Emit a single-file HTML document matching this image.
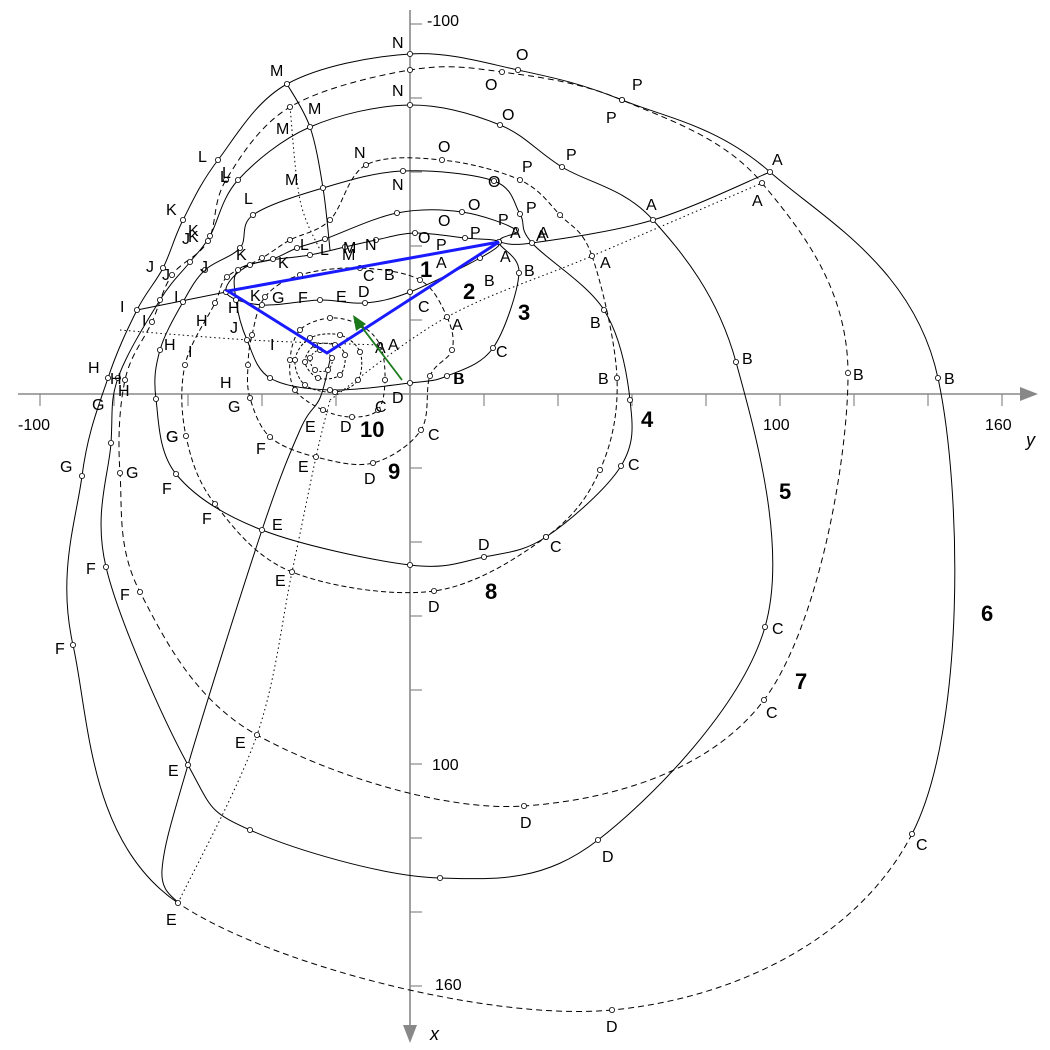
<!DOCTYPE html>
<html><head><meta charset="utf-8"><style>
html,body{margin:0;padding:0;background:#fff;}
svg{display:block;font-family:"Liberation Sans",sans-serif;}
</style></head><body>
<svg id="s" width="1050" height="1050" viewBox="0 0 1050 1050" xmlns="http://www.w3.org/2000/svg">
<rect width="1050" height="1050" fill="#fff"/>
<g stroke="#888" stroke-width="1.6" fill="none">
<line x1="18" y1="394" x2="1025" y2="394"/>
<line x1="410" y1="10" x2="410" y2="1030"/>
</g>
<polygon points="1038,394 1020,387 1020,401" fill="#888"/>
<polygon points="410,1043 403,1025 417,1025" fill="#888"/>
<g id="ticks" stroke="#888" stroke-width="1.2"></g>
<g id="curves" fill="none" stroke="#000" stroke-width="1"></g>
<g id="pts" fill="#fff" stroke="#000" stroke-width="0.8"></g>
<g id="lbl" font-size="16" fill="#000"></g>
<g font-size="16" fill="#000">
<text x="18" y="430">-100</text><text x="763" y="430">100</text><text x="985" y="430">160</text>
<text x="1026" y="446" font-style="italic" font-size="18">y</text>
<text x="427" y="26">-100</text><text x="432" y="770">100</text><text x="435" y="990">160</text>
<text x="430" y="1040" font-style="italic" font-size="18">x</text>
</g>
<g font-size="22" font-weight="bold" fill="#000">
<text x="420" y="277">1</text><text x="463" y="299">2</text><text x="518" y="320">3</text>
<text x="641" y="427">4</text><text x="779" y="499">5</text><text x="981" y="621">6</text>
<text x="795" y="689">7</text><text x="485" y="599">8</text><text x="388" y="479">9</text>
<text x="360" y="437">10</text>
</g>
<polygon points="228,291 499,242 327,353" fill="none" stroke="#1a1aff" stroke-width="3" stroke-linejoin="miter"/>
<line x1="402" y1="380" x2="358" y2="322" stroke="#1a7a1a" stroke-width="1.8"/>
<polygon points="353,315 356,331 366,324" fill="#1a7a1a"/>
</svg>
<script>
const NS="http://www.w3.org/2000/svg";
function el(t,a,p){const e=document.createElementNS(NS,t);for(const k in a)e.setAttribute(k,a[k]);document.getElementById(p).appendChild(e);return e;}
for(let k=-5;k<=8;k++){const x=410+74*k;if(x>20&&x<1020&&k!=0)el('line',{x1:x,y1:394,x2:x,y2:406},'ticks');}
for(let k=-5;k<=8;k++){const y=394+74*k;if(y>15&&y<1025&&k!=0)el('line',{x1:410,y1:y,x2:422,y2:y},'ticks');}
function seg(P,closed,i){
 const n=P.length;const g=j=>closed?P[(j+n)%n]:P[Math.max(0,Math.min(n-1,j))];
 const p0=g(i-1),p1=g(i),p2=g(i+1),p3=g(i+2);
 const c1=[p1[0]+(p2[0]-p0[0])/6,p1[1]+(p2[1]-p0[1])/6],c2=[p2[0]-(p3[0]-p1[0])/6,p2[1]-(p3[1]-p1[1])/6];
 return " C"+c1+" "+c2+" "+p2;
}
function spline(P,closed){
 let n=P.length,d="M"+P[0][0]+","+P[0][1];const m=closed?n:n-1;
 for(let i=0;i<m;i++)d+=seg(P,closed,i);
 return d+(closed?"Z":"");
}
const curves=[
 [[[770,172],[938,378],[912,834],[612,1010],[178,903],[73,645],[82,476],[108,378],[137,310],[163,268],[183,220],[218,160],[287,84],[410,54],[518,70],[622,100]],null,[2,3]],
 [[[762,183],[848,373],[764,700],[524,806],[257,735],[140,592],[120,473],[125,380],[152,322],[172,275],[208,241],[226,180],[290,107],[410,70],[502,72],[622,100]],"6,4"],
 [[[653,220],[736,362],[765,627],[598,840],[440,878],[250,830],[188,765],[106,567],[111,443],[118,378],[160,300],[190,262],[210,236],[238,180],[310,127],[410,105],[500,125],[562,167]],null],
 [[[532,243],[604,310],[630,400],[621,466],[546,537],[484,557],[410,565],[262,530],[176,474],[156,399],[160,350],[183,302],[205,270],[240,248],[253,215],[323,188],[403,171],[494,181],[520,214]],null],
 [[[592,256],[617,378],[600,470],[546,537],[434,591],[292,572],[215,504],[186,436],[185,365],[215,303],[227,277],[262,258],[290,240],[330,220],[366,165],[442,160],[520,180],[560,215]],"5,3"],
 [[[499,242],[519,273],[493,348],[447,376],[410,383],[330,390],[270,378],[247,340],[236,300],[238,270],[273,259],[297,248],[325,239],[397,213],[462,212],[516,230]],null],
 [[[499,242],[480,258],[410,292],[365,303],[320,300],[262,305],[226,292],[250,265],[310,255],[345,247],[376,240],[415,233],[465,238]],null],
 [[[447,317],[452,350],[430,376],[421,430],[373,463],[316,457],[270,437],[250,398],[248,365],[252,335],[265,297],[300,275],[360,268],[420,280]],"5,3"],
 [[[380,345],[385,380],[378,410],[352,417],[323,410],[295,390],[290,360],[300,330],[330,318],[360,325]],"4,3"],
 [[[360,352],[358,380],[335,392],[305,385],[295,360],[310,338],[340,335]],"3,2"],
 [[[345,355],[340,375],[318,378],[305,362],[315,345],[335,345]],"3,2"],
 [[[332,358],[328,370],[315,370],[310,358],[320,350]],"2,2"]
];
curves.forEach(c=>{
 if(c[2]){
  const P=c[0],n=P.length;
  for(let i=0;i<n;i++){
   const a={d:"M"+P[i]+seg(P,true,i)};
   if(c[2].includes(i))a["stroke-dasharray"]="6,4";
   el('path',a,'curves');
  }
 } else {
  const a={d:spline(c[0],true)};if(c[1])a["stroke-dasharray"]=c[1];
  el('path',a,'curves');
 }
 c[0].forEach(p=>el('circle',{cx:p[0],cy:p[1],r:2.6},'pts'));
});
const lines=[
 [[[178,903],[162,870],[188,765],[262,530],[300,430],[320,398],[330,360]],null],
 [[[178,903],[257,735],[292,572],[316,457],[330,400]],"1.5,3"],
 [[[287,84],[310,127],[323,188],[330,250]],null],
 [[[290,107],[300,200],[320,250]],"1.5,3"],
 [[[499,242],[532,243],[653,220],[770,172]],null],
 [[[330,400],[447,317],[592,256],[762,183]],"1.5,3"],
 [[[137,310],[226,292]],null],
 [[[120,330],[250,340],[380,345]],"1.5,3"]
];
lines.forEach(l=>{const a={d:spline(l[0],false)};if(l[1])a["stroke-dasharray"]=l[1];el('path',a,'curves');});
const labs=[
 ["N",392,48],["O",516,60],["P",632,90],["A",772,165],["B",944,384],["C",916,850],["D",606,1032],["E",166,925],["F",55,654],["G",60,472],["H",88,373],["I",120,312],["J",146,272],["K",166,215],["L",198,162],["M",270,76],
 ["O",485,90],["P",606,123],["A",752,206],["B",853,380],["C",766,718],["D",520,828],["E",235,748],["F",120,600],["G",126,478],["H",110,384],["I",142,326],["J",162,280],["K",188,242],["L",220,182],["M",276,134],["N",392,96],
 ["O",502,120],["P",566,160],["A",646,210],["B",742,364],["C",772,634],["D",602,862],["E",168,776],["F",86,574],["G",92,410],["H",118,396],["M",308,114],["N",392,190],["L",244,204],["K",188,236],["J",182,244],["L",222,178],
 ["A",538,238],["B",590,328],["C",628,470],["C",550,552],["D",478,550],["E",272,530],["F",162,494],["G",166,442],["H",196,326],["I",174,302],["J",200,272],["K",236,260],["M",285,185],["N",354,158],["O",438,152],["P",522,172],
 ["A",600,268],["B",598,384],["D",428,612],["E",275,586],["F",202,524],["G",166,442],["H",164,350],["I",188,357],["A",452,330],["B",454,384],["C",428,440],["D",364,484],["E",298,472],["F",256,454],["G",228,412],["H",220,388],
 ["A",500,262],["B",484,286],["C",418,312],["D",358,297],["E",336,302],["F",298,303],["G",272,303],["H",228,313],["K",250,301],["J",230,333],["I",270,350],["K",278,268],["L",300,250],["M",343,253],["N",365,250],["O",418,243],["P",436,250],["A",436,268],["B",384,280],["C",363,281],["L",320,255],["M",342,260],
 ["O",468,210],["P",470,238],["O",438,226],["P",498,225],["A",510,238],["A",536,241],["B",524,276],["C",496,357],["A",375,353],["A",388,350],["B",453,384],["C",375,412],["D",340,432],["E",305,432],["D",392,403],["P",526,213],["O",488,187]
];
labs.forEach(t=>{const e=el('text',{x:t[1],y:t[2]},'lbl');e.textContent=t[0];});
</script>
</body></html>
